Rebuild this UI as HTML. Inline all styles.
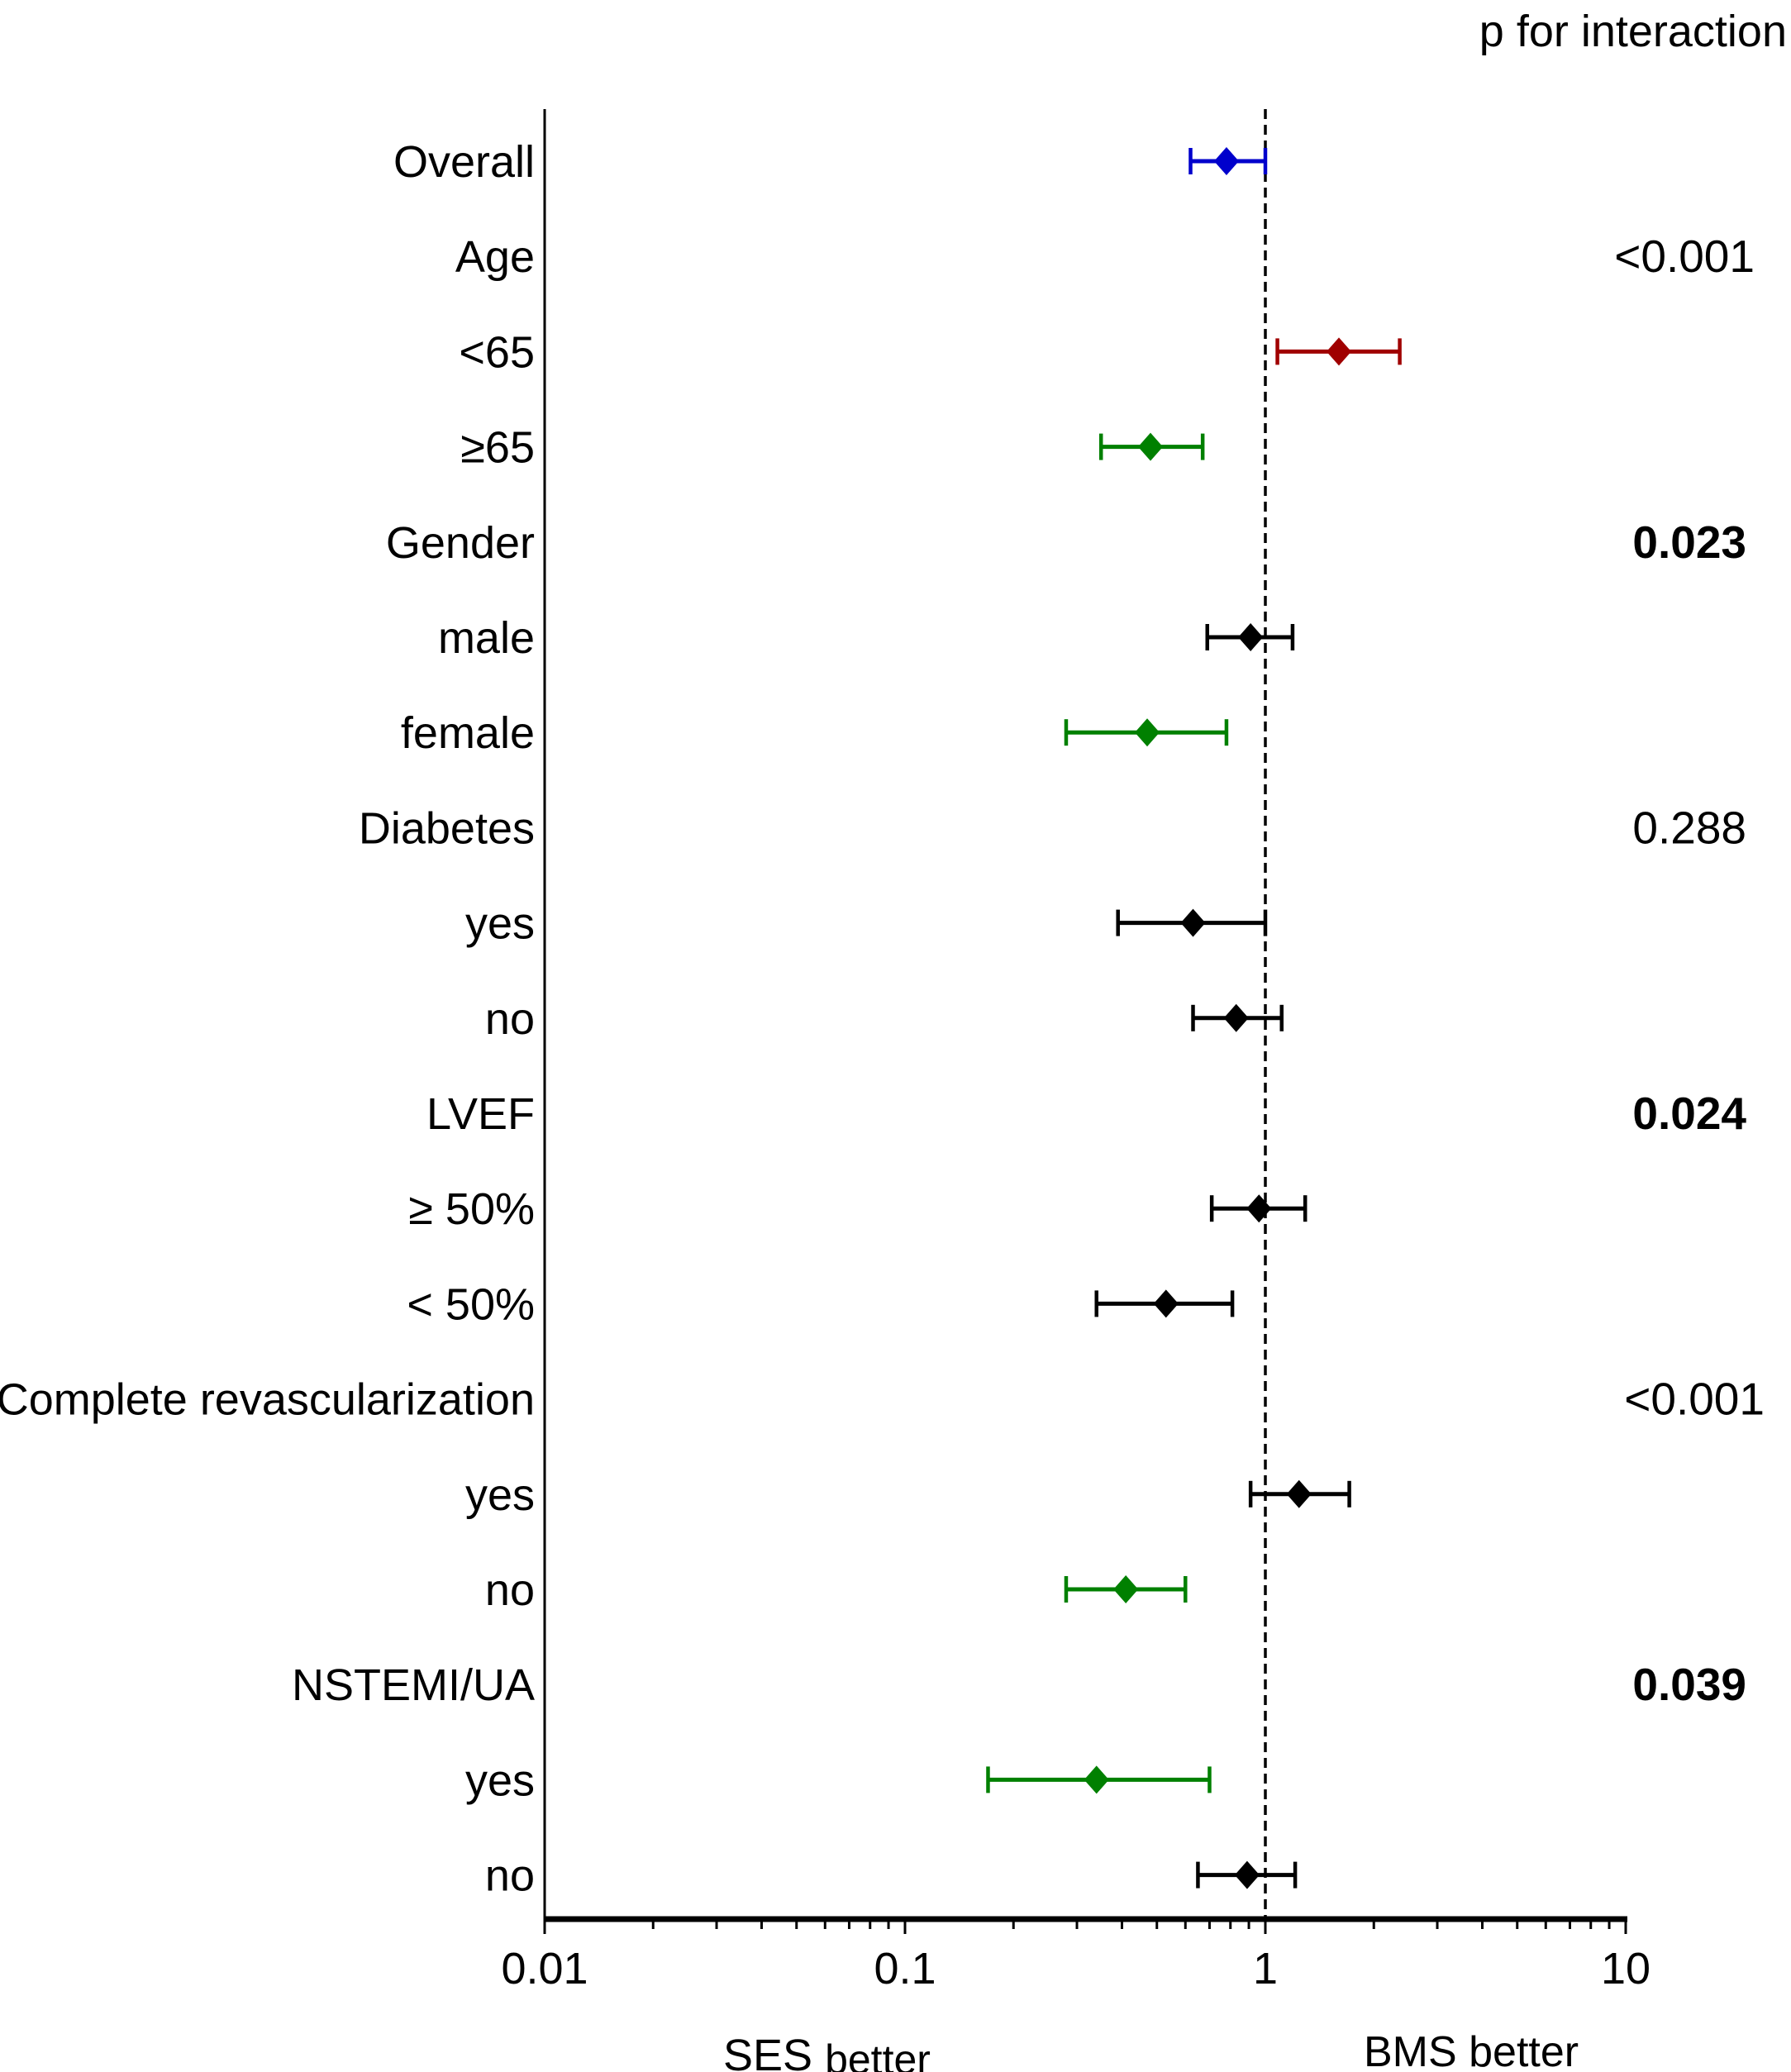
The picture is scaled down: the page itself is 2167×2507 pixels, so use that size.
<!DOCTYPE html>
<html><head><meta charset="utf-8"><style>
html,body{margin:0;padding:0;background:#fff;}
svg{display:block;font-family:"Liberation Sans",Arial,sans-serif;}
</style></head><body>
<svg id="chart" width="2167" height="2507" viewBox="0 0 2167 2507">
<text x="2162" y="56" font-size="54" text-anchor="end">p for interaction</text>
<g id="axes"></g>
<g id="rows"></g>
<text x="875" y="2505" font-size="54">SES <tspan font-size="50" dy="4">better</tspan></text>
<text x="1650" y="2500" font-size="52">BMS better</text>
</svg>
<script>
const labels = ["Overall","Age","<65","\u226565","Gender","male","female","Diabetes","yes","no","LVEF","\u2265 50%","< 50%","Complete revascularization","yes","no","NSTEMI/UA","yes","no"];
const estimates = [0.78,null,1.60,0.48,null,0.91,0.47,null,0.63,0.83,null,0.96,0.53,null,1.24,0.41,null,0.34,0.89];
const lowers    = [0.62,null,1.08,0.35,null,0.69,0.28,null,0.39,0.63,null,0.71,0.34,null,0.91,0.28,null,0.17,0.65];
const uppers    = [1.00,null,2.36,0.67,null,1.19,0.78,null,1.00,1.11,null,1.29,0.81,null,1.71,0.60,null,0.70,1.21];
const colors    = ["#0000cc",null,"#a00000","#008000",null,"#000","#008000",null,"#000","#000",null,"#000","#000",null,"#000","#008000",null,"#008000","#000"];
const pValues   = [null,"<0.001",null,null,"0.023",null,null,"0.288",null,null,"0.024",null,null,"<0.001",null,null,"0.039",null,null];
const pBold     = [false,false,false,false,true,false,false,false,false,false,true,false,false,false,false,false,true,false,false];
const tickValues = [0.01,0.1,1,10];
const tickLabels = ["0.01","0.1","1","10"];

const NS="http://www.w3.org/2000/svg";
const X0=659, DEC=436, AXY=2322, TOP=132, R0=195, RS=115.2;
const xs=v=>X0+(Math.log10(v)+2)*DEC;
const ys=i=>R0+i*RS;
function mk(tag,attrs,parent){const e=document.createElementNS(NS,tag);for(const k in attrs)e.setAttribute(k,attrs[k]);parent.appendChild(e);return e;}
const ax=document.getElementById('axes'), rows=document.getElementById('rows');

let e=mk('line',{x1:X0,y1:TOP,x2:X0,y2:AXY,stroke:'#000','stroke-width':3},ax);


e=mk('line',{x1:X0-1,y1:AXY,x2:xs(10)+2,y2:AXY,stroke:'#000','stroke-width':7},ax);


e=mk('line',{x1:xs(1),y1:TOP,x2:xs(1),y2:AXY,stroke:'#000','stroke-width':3.5,'stroke-dasharray':'12 7'},ax);


for(let d=0;d<3;d++){for(let m=2;m<=9;m++){const v=tickValues[d]*m;
 e=mk('line',{x1:xs(v),y1:AXY,x2:xs(v),y2:AXY+12,stroke:'#000','stroke-width':3},ax);
 
 }}
tickValues.forEach((v,i)=>{
 e=mk('line',{x1:xs(v),y1:AXY,x2:xs(v),y2:AXY+18,stroke:'#000','stroke-width':3},ax);
 
 
 e=mk('text',{x:xs(v),y:AXY+78,'font-size':54,'text-anchor':'middle'},ax);
 e.textContent=tickLabels[i];
 
 
});
labels.forEach((l,i)=>{
 const y=ys(i);
 e=mk('text',{x:647,y:y+19,'font-size':54,'text-anchor':'end'},rows);
 e.textContent=l;
 
 
 if(pValues[i]){
  const anchorX = pValues[i][0]==='<' ? (i<5?2123:2135) : 2113;
  e=mk('text',{x:anchorX,y:y+19,'font-size':55,'text-anchor':'end','font-weight':pBold[i]?'bold':'normal'},rows);
  e.textContent=pValues[i];
  
  
 }
 if(estimates[i]!=null){
  const c=colors[i], g=mk('g',{},rows);
  
  
  const a=xs(lowers[i]), b=xs(uppers[i]), p=xs(estimates[i]);
  e=mk('line',{x1:a,y1:y,x2:b,y2:y,stroke:c,'stroke-width':5},g);
  
  
  [a,b].forEach(xx=>{
   e=mk('line',{x1:xx,y1:y-16,x2:xx,y2:y+16,stroke:c,'stroke-width':4.5},g);
   
   
  });
  e=mk('polygon',{points:`${p-15},${y} ${p},${y-17} ${p+15},${y} ${p},${y+17}`,fill:c},g);
  
  
 }
});
</script>
</body></html>
